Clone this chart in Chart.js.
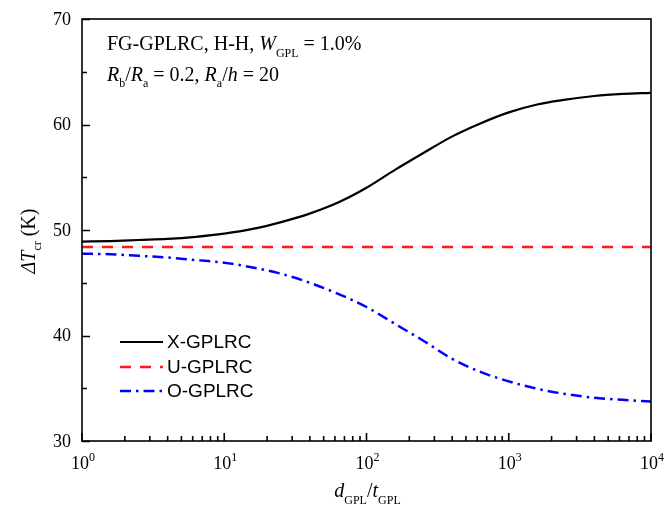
<!DOCTYPE html>
<html>
<head>
<meta charset="utf-8">
<script src="https://cdn.jsdelivr.net/npm/chart.js@4.4.1/dist/chart.umd.min.js"></script>
<style>
  html, body { margin: 0; padding: 0; background: #fff; }
  #grafico { display: block; }
</style>
</head>
<body>
<canvas id="grafico" width="666" height="509"></canvas>
<script>
// dados
const razaoDT = [1, 1.585, 2.512, 3.981, 6.31, 10, 15.85, 25.12, 39.81, 63.1, 100,
                 158.5, 251.2, 398.1, 631, 1000, 1585, 2512, 3981, 6310, 10000];
const serieX = [48.9, 48.95, 49.05, 49.15, 49.35, 49.65, 50.1, 50.75, 51.55, 52.6, 54.0,
                55.7, 57.3, 58.85, 60.1, 61.15, 61.9, 62.35, 62.7, 62.9, 63.0];
const serieU = [48.4, 48.4, 48.4, 48.4, 48.4, 48.4, 48.4, 48.4, 48.4, 48.4, 48.4,
                48.4, 48.4, 48.4, 48.4, 48.4, 48.4, 48.4, 48.4, 48.4, 48.4];
const serieO = [47.75, 47.7, 47.55, 47.4, 47.15, 46.9, 46.45, 45.85, 45.0, 43.95, 42.7,
                41.1, 39.5, 37.8, 36.55, 35.65, 34.95, 34.45, 34.1, 33.9, 33.75];
const nomesSeries = ['X-GPLRC', 'U-GPLRC', 'O-GPLRC'];
const ticksY = [30, 40, 50, 60, 70];
const ticksYMenores = [35, 45, 55, 65];
const expoentesX = [0, 1, 2, 3, 4];

const SERIF = "'Liberation Serif', 'Times New Roman', serif";
const SANS = "'Liberation Sans', Arial, sans-serif";

function pontos(valores) {
    return razaoDT.map((x, i) => ({ x: x, y: valores[i] }));
}

// desenha texto com partes (itálico, subscrito...)
function textoRico(ctx, partes, x, y, alinhar) {
    let largura = 0;
    partes.forEach(p => { ctx.font = p.f; largura += ctx.measureText(p.t).width; });
    let cx = alinhar === 'center' ? x - largura / 2 : (alinhar === 'right' ? x - largura : x);
    ctx.textAlign = 'left';
    ctx.textBaseline = 'alphabetic';
    partes.forEach(p => {
        ctx.font = p.f;
        ctx.fillText(p.t, cx, y + (p.dy || 0));
        cx += ctx.measureText(p.t).width;
    });
}

const N = '18px ' + SERIF, N20 = '20px ' + SERIF, I20 = 'italic 20px ' + SERIF, S12 = '12px ' + SERIF;

const molduraPlugin = {
    id: 'moldura',
    afterDatasetsDraw(chart) {
        const ctx = chart.ctx;
        const area = chart.chartArea;
        const sx = chart.scales.x, sy = chart.scales.y;
        ctx.save();
        ctx.strokeStyle = '#000';
        ctx.fillStyle = '#000';
        ctx.lineWidth = 1.6;
        ctx.strokeRect(area.left, area.top, area.right - area.left, area.bottom - area.top);

        // ticks do eixo y
        ctx.beginPath();
        ticksY.forEach(v => {
            const py = Math.round(sy.getPixelForValue(v)) + 0.5;
            ctx.moveTo(area.left, py); ctx.lineTo(area.left + 8, py);
        });
        ticksYMenores.forEach(v => {
            const py = Math.round(sy.getPixelForValue(v)) + 0.5;
            ctx.moveTo(area.left, py); ctx.lineTo(area.left + 5, py);
        });
        // ticks do eixo x (log)
        expoentesX.forEach((e, k) => {
            const base = Math.pow(10, e);
            const px = sx.getPixelForValue(base);
            ctx.moveTo(px, area.bottom); ctx.lineTo(px, area.bottom - 8);
            if (k < expoentesX.length - 1) {
                for (let m = 2; m <= 9; m++) {
                    const pm = sx.getPixelForValue(base * m);
                    ctx.moveTo(pm, area.bottom); ctx.lineTo(pm, area.bottom - 5);
                }
            }
        });
        ctx.stroke();

        // rótulos y
        ctx.font = N;
        ctx.textAlign = 'right';
        ctx.textBaseline = 'middle';
        ticksY.forEach(v => ctx.fillText(String(v), area.left - 11, sy.getPixelForValue(v) + 1));

        // rótulos x 10^n
        expoentesX.forEach(e => {
            const px = sx.getPixelForValue(Math.pow(10, e));
            textoRico(ctx, [{ t: '10', f: N }, { t: String(e), f: S12, dy: -8 }], px + 1, area.bottom + 28, 'center');
        });

        // título x
        textoRico(ctx, [
            { t: 'd', f: I20 }, { t: 'GPL', f: S12, dy: 7 }, { t: '/', f: N20 },
            { t: 't', f: I20 }, { t: 'GPL', f: S12, dy: 7 }
        ], (area.left + area.right) / 2 + 1, 497, 'center');

        // título y
        ctx.save();
        ctx.translate(35, 241);
        ctx.rotate(-Math.PI / 2);
        textoRico(ctx, [
            { t: 'ΔT', f: I20 }, { t: 'cr', f: S12, dy: 6 }, { t: ' (K)', f: N20 }
        ], 0, 0, 'center');
        ctx.restore();

        // anotação
        textoRico(ctx, [
            { t: 'FG-GPLRC, H-H, ', f: N20 }, { t: 'W', f: I20 },
            { t: 'GPL', f: S12, dy: 7 }, { t: ' = 1.0%', f: N20 }
        ], 107, 50, 'left');
        textoRico(ctx, [
            { t: 'R', f: I20 }, { t: 'b', f: S12, dy: 6 }, { t: '/', f: N20 },
            { t: 'R', f: I20 }, { t: 'a', f: S12, dy: 6 }, { t: ' = 0.2, ', f: N20 },
            { t: 'R', f: I20 }, { t: 'a', f: S12, dy: 6 }, { t: '/', f: N20 },
            { t: 'h', f: I20 }, { t: ' = 20', f: N20 }
        ], 107, 81, 'left');

        // legenda
        const linhasY = [342, 367, 391];
        chart.data.datasets.forEach((ds, i) => {
            ctx.save();
            ctx.strokeStyle = ds.borderColor;
            ctx.lineWidth = ds.borderWidth;
            ctx.setLineDash(ds.borderDash || []);
            ctx.beginPath();
            ctx.moveTo(120, linhasY[i]); ctx.lineTo(163, linhasY[i]);
            ctx.stroke();
            ctx.restore();
            ctx.font = '19px ' + SANS;
            ctx.textAlign = 'left';
            ctx.textBaseline = 'middle';
            ctx.fillText(nomesSeries[i], 167, linhasY[i] + 1);
        });
        ctx.restore();
    }
};

const ctx = document.getElementById('grafico').getContext('2d');
new Chart(ctx, {
    type: 'line',
    data: {
        datasets: [{
            label: nomesSeries[0],
            data: pontos(serieX),
            borderColor: '#000000',
            borderWidth: 2.2,
            pointRadius: 0,
            cubicInterpolationMode: 'monotone'
        }, {
            label: nomesSeries[1],
            data: pontos(serieU),
            borderColor: '#ff1a1a',
            borderWidth: 2.5,
            borderDash: [11, 9],
            pointRadius: 0
        }, {
            label: nomesSeries[2],
            data: pontos(serieO),
            borderColor: '#0000ff',
            borderWidth: 2.5,
            borderDash: [11, 5, 2.5, 5],
            pointRadius: 0,
            cubicInterpolationMode: 'monotone'
        }]
    },
    options: {
        responsive: false,
        animation: false,
        devicePixelRatio: 1,
        layout: { padding: { left: 82, top: 19, right: 15, bottom: 68 } },
        plugins: { legend: { display: false }, tooltip: { enabled: false } },
        scales: {
            x: { type: 'logarithmic', min: 1, max: 10000, display: false },
            y: { type: 'linear', min: 30, max: 70, display: false }
        }
    },
    plugins: [molduraPlugin]
});
</script>
</body>
</html>
